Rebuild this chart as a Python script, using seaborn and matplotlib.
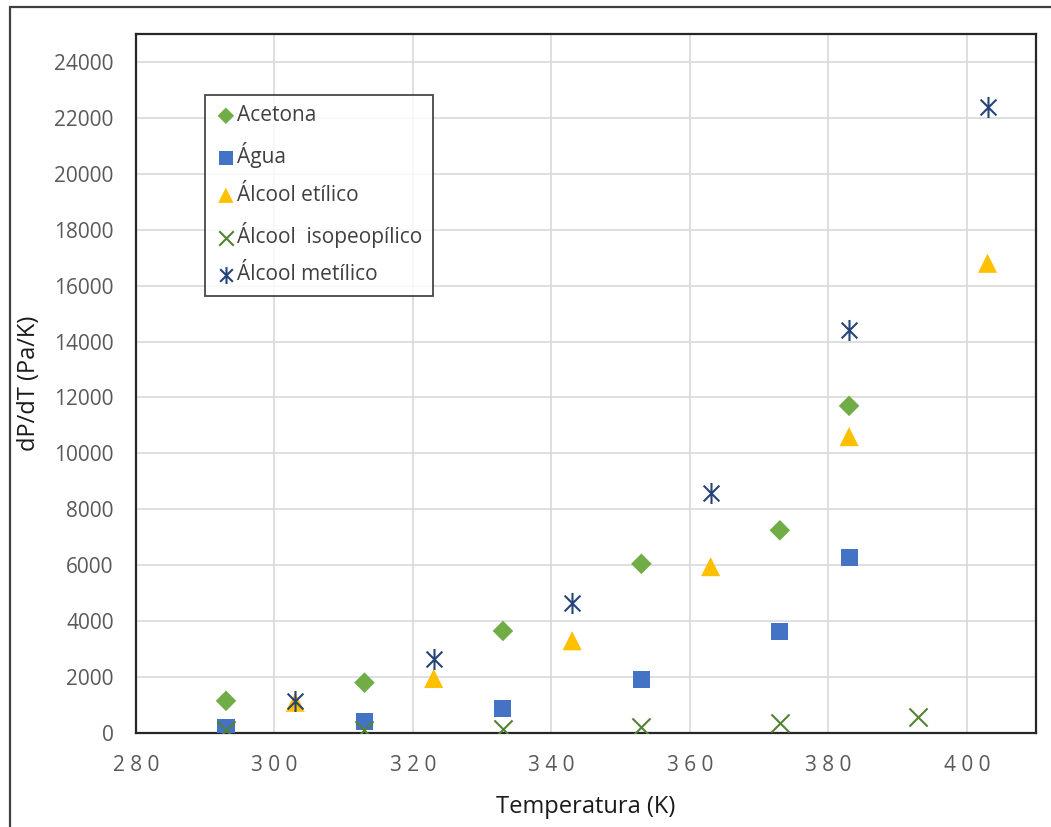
import matplotlib
matplotlib.use("Agg")
import matplotlib.pyplot as plt
from matplotlib.path import Path
from matplotlib.patches import Rectangle
from matplotlib.ticker import MultipleLocator, FuncFormatter
import numpy as np
import pandas as pd
import seaborn as sns

# Temperature (K) and dP/dT (Pa/K) for each liquid
temp_acetona = [293, 313, 333, 353, 373, 383]
dpdt_acetona = [1150, 1800, 3650, 6050, 7250, 11700]

temp_agua = [293, 313, 333, 353, 373, 383]
dpdt_agua = [180, 400, 870, 1900, 3620, 6270]

temp_etilico = [303, 323, 343, 363, 383, 403]
dpdt_etilico = [1100, 1950, 3300, 5950, 10600, 16800]

temp_isopropilico = [293, 313, 333, 353, 373, 393]
dpdt_isopropilico = [90, 100, 150, 220, 360, 560]

temp_metilico = [303, 323, 343, 363, 383, 403]
dpdt_metilico = [1150, 2650, 4650, 8600, 14400, 22400]

labels = ["Acetona", "Água", "Álcool etílico", "Álcool  isopeopílico", "Álcool metílico"]
colors = ["#70AD47", "#4472C4", "#FFC000", "#548235", "#264478"]

# asterisk glyph: vertical bar crossed by an X
asterisk = Path(
    [(0, -1), (0, 1), (-0.75, -0.75), (0.75, 0.75), (-0.75, 0.75), (0.75, -0.75)],
    [Path.MOVETO, Path.LINETO, Path.MOVETO, Path.LINETO, Path.MOVETO, Path.LINETO],
)

series = [
    (temp_acetona, dpdt_acetona, "D", 110, None),
    (temp_agua, dpdt_agua, "s", 150, None),
    (temp_etilico, dpdt_etilico, "^", 190, None),
    (temp_isopropilico, dpdt_isopropilico, "x", 170, 1.5),
    (temp_metilico, dpdt_metilico, asterisk, 230, 1.5),
]

sns.set_theme(style="white")
plt.rcParams["font.family"] = ["Open Sans", "DejaVu Sans"]

fig = plt.figure(figsize=(10.51, 8.27), dpi=100)
ax = fig.add_axes([136 / 1051, 94 / 827, 900 / 1051, 699 / 827])

for (t, v, mk, sz, lw), lab, col in zip(series, labels, colors):
    df = pd.DataFrame({"T": t, "dPdT": v})
    kw = dict(marker=mk, s=sz, color=col, label=lab, ax=ax, zorder=3)
    if lw is None:
        kw.update(edgecolor="none", linewidth=0)
    else:
        kw.update(linewidth=lw, edgecolor=col)
    sns.scatterplot(data=df, x="T", y="dPdT", **kw)

ax.set_xlim(280, 410)
ax.set_ylim(0, 25000)
ax.xaxis.set_major_locator(MultipleLocator(20))
ax.xaxis.set_minor_locator(MultipleLocator(4))
ax.yaxis.set_major_locator(MultipleLocator(2000))
ax.yaxis.set_minor_locator(MultipleLocator(400))
ax.set_yticks(np.arange(0, 24001, 2000))
# spaced-out digits on the temperature axis
ax.xaxis.set_major_formatter(FuncFormatter(lambda v, p: " ".join(f"{v:.0f}")))

ax.grid(True, which="major", color="#D9D9D9", linewidth=1.2)
ax.set_axisbelow(True)
for sp in ax.spines.values():
    sp.set_visible(True)
    sp.set_color("#262626")
    sp.set_linewidth(1.6)

ax.tick_params(axis="both", which="major", direction="in", length=6, width=1.3,
               color="#262626", labelsize=15, labelcolor="#595959")
ax.tick_params(axis="both", which="minor", direction="in", length=4, width=1.3,
               color="#262626")
ax.tick_params(axis="x", which="major", pad=16)
ax.tick_params(axis="y", which="major", pad=16)

ax.set_xlabel("Temperatura (K)", fontsize=17, color="#1a1a1a")
ax.set_ylabel("dP/dT (Pa/K)", fontsize=17, color="#1a1a1a")
ax.xaxis.set_label_coords(0.5, -0.089)
ax.yaxis.set_label_coords(-0.1056, 0.5)

leg = ax.legend(loc="upper left", bbox_to_anchor=(0.0767, 0.913), borderaxespad=0,
                frameon=True, fancybox=False, edgecolor="#1a1a1a", fontsize=15,
                handletextpad=0.05, labelspacing=0.78, handlelength=1.0,
                borderpad=0.5, markerscale=0.8)
leg.get_frame().set_linewidth(1.3)
for txt in leg.get_texts():
    txt.set_color("#404040")

# outer chart border
fig.patches.append(Rectangle((10 / 1051, -0.05), 1.2, 0.05 + 820 / 827,
                             transform=fig.transFigure, fill=False,
                             edgecolor="#404040", linewidth=1.6))

fig.savefig("out.png", dpi=100)
